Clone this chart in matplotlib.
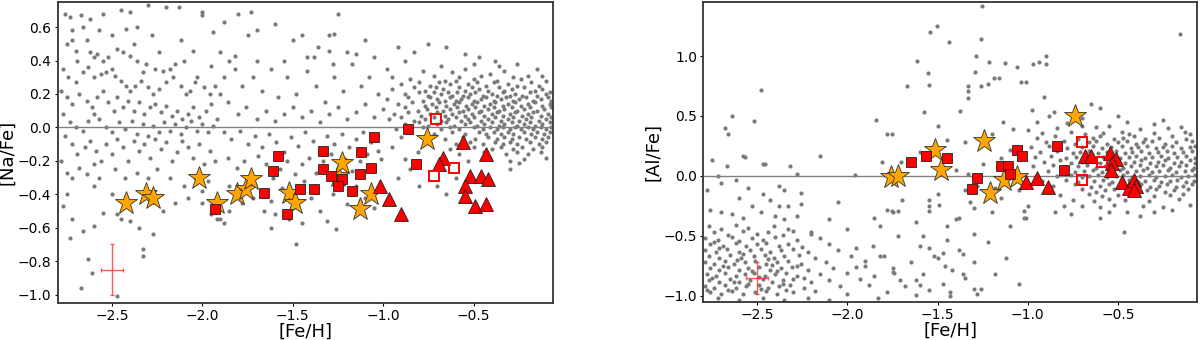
import matplotlib
matplotlib.use("Agg")
import matplotlib.pyplot as plt
import numpy as np

# ---------------- Panel 1: [Na/Fe] ----------------
na_star_feh = [-2.42, -2.31, -2.27, -2.02, -1.92, -1.81, -1.76, -1.73, -1.52, -1.49, -1.25, -1.23, -1.13, -1.07, -0.76]
na_star_val = [-0.45, -0.40, -0.42, -0.30, -0.45, -0.40, -0.37, -0.31, -0.39, -0.45, -0.29, -0.21, -0.49, -0.40, -0.07]

na_sq_feh = [-1.93, -1.66, -1.61, -1.58, -1.53, -1.46, -1.38, -1.33, -1.33, -1.29, -1.23, -1.25, -1.17, -1.13, -1.12, -1.07, -1.05, -0.86, -0.82]
na_sq_val = [-0.49, -0.39, -0.26, -0.17, -0.52, -0.37, -0.37, -0.14, -0.25, -0.29, -0.31, -0.35, -0.38, -0.28, -0.15, -0.24, -0.06, -0.01, -0.22]

na_open_feh = [-0.71, -0.61, -0.72]
na_open_val = [0.05, -0.24, -0.29]

na_tri_feh = [-1.02, -0.97, -0.90, -0.56, -0.67, -0.69, -0.43, -0.52, -0.46, -0.42, -0.55, -0.55, -0.49, -0.43]
na_tri_val = [-0.35, -0.43, -0.52, -0.09, -0.18, -0.22, -0.16, -0.29, -0.29, -0.31, -0.35, -0.41, -0.47, -0.46]

na_err = dict(x=-2.5, y=-0.85, xerr=0.06, yerr=0.15)

na_bg_metal_poor = [
    (-2.76,0.68),(-2.73,0.66),(-2.67,0.67),(-2.62,0.65),(-2.55,0.68),(-2.45,0.70),(-2.40,0.69),(-2.30,0.73),(-2.20,0.72),
    (-2.13,0.72),(-2.00,0.69),(-2.00,0.67),(-1.80,0.68),(-2.28,0.55),(-2.36,0.60),(-2.42,0.59),(-2.50,0.55),(-2.66,0.60),
    (-2.72,0.58),(-2.72,0.52),(-2.75,0.50),(-2.70,0.46),(-2.62,0.45),(-2.60,0.42),(-2.58,0.44),(-2.55,0.40),(-2.52,0.42),
    (-2.47,0.47),(-2.44,0.45),(-2.40,0.43),(-2.36,0.40),(-2.31,0.38),(-2.26,0.35),(-2.22,0.34),(-2.18,0.35),(-2.15,0.38),
    (-2.10,0.40),(-2.05,0.46),(-1.94,0.57),(-1.90,0.45),(-1.85,0.40),(-1.82,0.43),(-1.75,0.55),(-2.03,0.30),(-2.77,0.35),
    (-2.74,0.30),(-2.70,0.27),(-2.66,0.33),(-2.63,0.36),(-2.60,0.30),(-2.56,0.32),(-2.53,0.33),(-2.50,0.35),(-2.48,0.31),
    (-2.45,0.28),(-2.42,0.25),(-2.40,0.22),(-2.37,0.25),(-2.34,0.28),(-2.30,0.24),(-2.27,0.20),(-2.24,0.23),(-2.20,0.27),
    (-2.16,0.30),(-2.12,0.25),(-2.09,0.20),(-2.07,0.22),(-2.04,0.27),(-1.99,0.24),(-1.96,0.20),(-1.93,0.25),(-1.90,0.20),
    (-1.88,0.30),(-2.78,0.22),(-2.75,0.18),(-2.72,0.14),(-2.68,0.20),(-2.64,0.16),(-2.61,0.12),(-2.58,0.18),(-2.55,0.22),
    (-2.52,0.15),(-2.49,0.10),(-2.47,0.18),(-2.44,0.12),(-2.41,0.16),(-2.38,0.10),(-2.35,0.15),(-2.32,0.08),(-2.29,0.12),
    (-2.26,0.14),(-2.23,0.09),(-2.20,0.13),(-2.17,0.07),(-2.14,0.10),(-2.11,0.05),(-2.08,0.08),(-2.05,0.12),(-2.02,0.06),
    (-1.98,0.10),(-1.95,0.14),(-1.92,0.05),(-2.77,0.08),(-2.73,0.03),(-2.70,0.00),(-2.66,-0.02),(-2.63,0.04),(-2.60,0.08),
    (-2.57,0.05),(-2.53,0.00),(-2.50,-0.03),(-2.46,0.03),(-2.43,-0.01),(-2.39,0.04),(-2.36,-0.04),(-2.33,0.02),(-2.30,-0.05),
    (-2.27,0.01),(-2.24,-0.03),(-2.21,0.03),(-2.18,-0.02),(-2.15,0.02),(-2.12,-0.04),(-2.09,0.00),(-2.06,0.04),(-2.03,-0.02),
    (-2.00,0.02),(-1.97,-0.03),(-1.94,0.01),(-2.76,-0.05),(-2.72,-0.10),(-2.69,-0.16),(-2.65,-0.12),(-2.62,-0.08),(-2.59,-0.14),
    (-2.56,-0.20),(-2.53,-0.10),(-2.50,-0.16),(-2.47,-0.07),(-2.44,-0.12),(-2.41,-0.20),(-2.38,-0.08),(-2.35,-0.14),(-2.32,-0.10),
    (-2.29,-0.18),(-2.26,-0.07),(-2.23,-0.13),(-2.20,-0.09),(-2.17,-0.20),(-2.14,-0.15),(-2.11,-0.08),(-2.08,-0.12),(-2.05,-0.18),
    (-2.02,-0.10),(-1.99,-0.22),(-1.96,-0.14),(-1.93,-0.20),(-2.78,-0.20),(-2.75,-0.27),(-2.72,-0.30),(-2.68,-0.24),(-2.64,-0.28),
    (-2.60,-0.22),(-2.57,-0.30),(-2.48,-0.25),(-2.43,-0.30),(-2.36,-0.27),(-2.30,-0.30),(-2.25,-0.25),(-2.18,-0.30),(-2.10,-0.35),
    (-2.04,-0.30),(-1.97,-0.32),(-2.75,-0.40),(-2.77,-0.47),(-2.72,-0.55),(-2.73,-0.66),(-2.66,-0.62),(-2.60,-0.59),(-2.55,-0.51),
    (-2.47,-0.52),(-2.40,-0.56),(-2.35,-0.60),(-2.33,-0.73),(-2.33,-0.77),(-2.27,-0.64),(-2.22,-0.50),(-2.15,-0.45),(-2.08,-0.42),
    (-2.00,-0.38),(-2.00,-0.45),(-1.95,-0.52),(-1.92,-0.55),(-2.63,-0.79),(-2.61,-0.87),(-2.67,-0.96),(-2.47,-1.01),(-2.45,-0.55),
    (-2.50,-0.40),(-2.60,-0.35),(-2.69,0.40),(-2.64,0.52),(-2.57,0.58),(-2.38,0.50),(-2.33,0.33),(-2.24,0.45),(-2.12,0.52),
]

na_bg_mid = [
    (-1.88,0.63),(-1.73,0.69),(-1.70,0.58),(-1.60,0.62),(-1.50,0.52),(-1.45,0.55),(-1.30,0.55),(-1.27,0.56),(-1.25,0.68),
    (-1.10,0.52),(-1.82,0.35),(-1.78,0.25),(-1.72,0.30),(-1.67,0.22),(-1.62,0.35),(-1.58,0.18),(-1.53,0.30),(-1.48,0.20),
    (-1.42,0.34),(-1.37,0.25),(-1.32,0.15),(-1.27,0.30),(-1.22,0.22),(-1.17,0.38),(-1.12,0.25),(-1.08,0.30),(-1.03,0.20),
    (-1.86,0.15),(-1.80,0.08),(-1.76,0.12),(-1.70,0.05),(-1.65,0.10),(-1.60,0.04),(-1.55,0.08),(-1.50,0.12),(-1.45,0.06),
    (-1.40,0.10),(-1.35,0.03),(-1.30,0.08),(-1.25,0.12),(-1.20,0.05),(-1.15,0.09),(-1.10,0.14),(-1.05,0.06),(-1.88,-0.03),
    (-1.84,-0.07),(-1.79,-0.02),(-1.75,-0.10),(-1.71,-0.05),(-1.67,-0.12),(-1.63,-0.04),(-1.59,-0.09),(-1.55,-0.15),(-1.51,-0.06),
    (-1.47,-0.11),(-1.43,-0.03),(-1.39,-0.08),(-1.35,-0.13),(-1.31,-0.05),(-1.27,-0.10),(-1.23,-0.04),(-1.19,-0.12),(-1.15,-0.07),
    (-1.11,-0.03),(-1.07,-0.09),(-1.03,-0.14),(-1.86,-0.18),(-1.81,-0.24),(-1.77,-0.20),(-1.73,-0.27),(-1.69,-0.17),(-1.65,-0.22),
    (-1.61,-0.30),(-1.57,-0.25),(-1.53,-0.20),(-1.49,-0.28),(-1.45,-0.22),(-1.41,-0.18),(-1.37,-0.27),(-1.33,-0.20),(-1.29,-0.16),
    (-1.25,-0.24),(-1.21,-0.19),(-1.17,-0.26),(-1.13,-0.20),(-1.09,-0.16),(-1.05,-0.25),(-1.01,-0.19),(-1.85,-0.35),(-1.78,-0.45),
    (-1.72,-0.42),(-1.66,-0.50),(-1.62,-0.44),(-1.56,-0.36),(-1.50,-0.48),(-1.44,-0.32),(-1.40,-0.42),(-1.35,-0.50),(-1.28,-0.40),
    (-1.20,-0.46),(-1.15,-0.35),(-1.10,-0.42),(-1.05,-0.48),(-1.90,-0.55),(-1.88,-0.57),(-1.85,-0.50),(-1.60,-0.52),(-1.52,-0.55),
    (-1.45,-0.57),(-1.26,-0.61),(-1.31,-0.56),(-1.13,-0.44),(-1.70,0.40),(-1.55,0.40),(-1.38,0.42),(-1.20,0.45),(-1.05,0.42),
    (-1.95,0.37),(-1.42,0.42),(-1.36,0.48),(-1.30,0.46),(-1.15,0.44),(-1.28,0.38),(-1.48,-0.70),(-1.62,-0.60),
]

na_bg_disk = [
    (-0.78,0.34),(-0.62,0.33),(-0.55,0.35),(-0.41,0.32),(-0.33,0.34),(-0.20,0.31),
    (-0.85,0.29),(-0.72,0.31),(-0.66,0.28),(-0.58,0.30),(-0.50,0.29),(-0.46,0.31),(-0.37,0.28),(-0.28,0.30),(-0.24,0.29),(-0.10,0.28),
    (-0.90,0.26),(-0.80,0.27),(-0.74,0.25),(-0.69,0.27),(-0.63,0.26),(-0.60,0.28),(-0.53,0.26),(-0.48,0.27),(-0.43,0.25),(-0.39,0.27),
    (-0.31,0.26),(-0.26,0.25),(-0.18,0.27),(-0.14,0.25),
    (-0.95,0.23),(-0.83,0.24),(-0.77,0.22),(-0.71,0.24),(-0.67,0.23),(-0.64,0.21),(-0.58,0.24),(-0.55,0.22),(-0.51,0.24),(-0.47,0.23),
    (-0.42,0.22),(-0.36,0.24),(-0.33,0.22),(-0.29,0.23),(-0.22,0.24),(-0.16,0.22),(-0.12,0.23),(-0.08,0.21),
    (-0.88,0.20),(-0.80,0.21),(-0.75,0.19),(-0.72,0.21),(-0.68,0.20),(-0.62,0.19),(-0.59,0.21),(-0.56,0.19),(-0.52,0.20),(-0.49,0.21),
    (-0.45,0.19),(-0.40,0.20),(-0.37,0.19),(-0.34,0.21),(-0.30,0.19),(-0.27,0.20),(-0.23,0.19),(-0.19,0.21),(-0.15,0.19),(-0.10,0.20),
    (-0.98,0.17),(-0.86,0.18),(-0.78,0.16),(-0.74,0.18),(-0.70,0.17),(-0.66,0.16),(-0.63,0.18),(-0.60,0.16),(-0.57,0.17),(-0.53,0.18),
    (-0.50,0.16),(-0.46,0.17),(-0.43,0.18),(-0.39,0.16),(-0.35,0.17),(-0.32,0.18),(-0.28,0.16),(-0.25,0.17),(-0.21,0.18),(-0.17,0.16),
    (-0.13,0.17),(-0.09,0.18),(-0.07,0.16),
    (-0.92,0.14),(-0.84,0.15),(-0.77,0.13),(-0.73,0.14),(-0.69,0.15),(-0.65,0.13),(-0.61,0.14),(-0.58,0.15),(-0.54,0.13),(-0.51,0.14),
    (-0.48,0.15),(-0.44,0.13),(-0.41,0.14),(-0.38,0.15),(-0.34,0.13),(-0.31,0.14),(-0.27,0.15),(-0.24,0.13),(-0.20,0.14),(-0.16,0.15),
    (-0.12,0.13),(-0.08,0.14),
    (-1.00,0.11),(-0.88,0.12),(-0.81,0.10),(-0.76,0.11),(-0.71,0.12),(-0.67,0.10),(-0.63,0.11),(-0.59,0.12),(-0.56,0.10),(-0.53,0.11),
    (-0.49,0.12),(-0.46,0.10),(-0.42,0.11),(-0.39,0.12),(-0.36,0.10),(-0.33,0.11),(-0.29,0.12),(-0.26,0.10),(-0.22,0.11),(-0.19,0.12),
    (-0.15,0.10),(-0.11,0.11),(-0.07,0.12),
    (-0.94,0.08),(-0.86,0.09),(-0.79,0.07),(-0.74,0.08),(-0.70,0.09),(-0.66,0.07),(-0.62,0.08),(-0.58,0.09),(-0.55,0.07),(-0.51,0.08),
    (-0.47,0.09),(-0.44,0.07),(-0.40,0.08),(-0.37,0.09),(-0.34,0.07),(-0.30,0.08),(-0.27,0.09),(-0.23,0.07),(-0.20,0.08),(-0.17,0.09),
    (-0.13,0.07),(-0.09,0.08),
    (-0.97,0.05),(-0.90,0.06),(-0.83,0.04),(-0.77,0.05),(-0.72,0.06),(-0.68,0.04),(-0.64,0.05),(-0.60,0.06),(-0.57,0.04),(-0.53,0.05),
    (-0.50,0.06),(-0.46,0.04),(-0.42,0.05),(-0.38,0.06),(-0.35,0.04),(-0.31,0.05),(-0.28,0.06),(-0.25,0.04),(-0.21,0.05),(-0.18,0.06),
    (-0.14,0.04),(-0.10,0.05),(-0.07,0.06),
    (-0.88,0.02),(-0.80,0.03),(-0.75,0.01),(-0.70,0.02),(-0.65,0.03),(-0.61,0.01),(-0.55,0.02),(-0.52,0.03),(-0.48,0.01),(-0.44,0.02),
    (-0.40,0.03),(-0.36,0.01),(-0.33,0.02),(-0.29,0.03),(-0.26,0.01),(-0.22,0.02),(-0.19,0.03),(-0.16,0.01),(-0.12,0.02),(-0.08,0.03),
    (-0.93,-0.01),(-0.78,0.00),(-0.68,-0.01),(-0.63,0.00),(-0.58,-0.01),(-0.50,0.00),(-0.45,-0.01),(-0.41,0.00),(-0.37,-0.01),
    (-0.34,0.00),(-0.30,-0.01),(-0.27,0.00),(-0.24,-0.01),(-0.20,0.00),(-0.17,-0.01),(-0.13,0.00),(-0.10,-0.01),(-0.07,0.00),
    (-0.85,-0.03),(-0.72,-0.04),(-0.62,-0.03),(-0.55,-0.04),(-0.47,-0.03),(-0.43,-0.04),(-0.39,-0.03),(-0.35,-0.04),(-0.31,-0.03),
    (-0.28,-0.04),(-0.22,-0.03),(-0.18,-0.04),(-0.15,-0.03),(-0.11,-0.04),(-0.08,-0.03),
    (-0.90,-0.06),(-0.66,-0.07),(-0.56,-0.06),(-0.49,-0.07),(-0.42,-0.06),(-0.37,-0.07),(-0.33,-0.06),(-0.29,-0.07),(-0.25,-0.06),
    (-0.21,-0.07),(-0.16,-0.06),(-0.12,-0.07),(-0.09,-0.06),
    (-0.77,-0.09),(-0.60,-0.10),(-0.52,-0.09),(-0.45,-0.10),(-0.38,-0.09),(-0.34,-0.10),(-0.30,-0.09),(-0.26,-0.10),(-0.19,-0.09),
    (-0.14,-0.10),(-0.10,-0.09),
    (-0.95,-0.12),(-0.63,-0.13),(-0.50,-0.12),(-0.40,-0.13),(-0.35,-0.12),(-0.28,-0.13),(-0.23,-0.12),(-0.17,-0.13),(-0.12,-0.12),
    (-0.81,-0.15),(-0.58,-0.16),(-0.44,-0.15),(-0.32,-0.16),(-0.26,-0.15),(-0.20,-0.16),(-0.13,-0.15),
    (-0.88,-0.19),(-0.53,-0.20),(-0.41,-0.19),(-0.30,-0.20),(-0.22,-0.19),
    (-0.68,0.37),(-0.50,0.38),(-0.36,0.37),(-0.26,0.38),
    (-0.75,0.50),(-0.65,0.48),(-0.55,0.44),(-0.47,0.42),(-0.38,0.40),(-0.15,0.35),(-0.12,0.31),(-0.70,-0.35),(-0.65,-0.40),
    (-0.30,-0.25),(-0.25,-0.21),(-0.10,-0.18),(-0.60,-0.30),(-0.80,-0.35),(-0.92,-0.30),(-0.85,-0.25),(-0.95,0.30),(-0.98,0.35),
    (-0.88,0.40),(-0.83,0.45),(-0.92,0.48),
]

# ---------------- Panel 2: [Al/Fe] ----------------
al_star_feh = [-1.76, -1.72, -1.515, -1.48, -1.24, -1.21, -1.13, -1.06, -0.74]
al_star_val = [-0.01, 0.00, 0.22, 0.05, 0.29, -0.14, -0.03, -0.01, 0.50]

al_sq_feh = [-1.65, -1.565, -1.45, -1.31, -1.28, -1.15, -1.11, -1.10, -1.06, -1.03, -0.84, -0.80]
al_sq_val = [0.12, 0.17, 0.15, -0.11, -0.02, 0.08, 0.08, 0.02, 0.22, 0.17, 0.25, 0.05]

al_open_feh = [-0.70, -0.59, -0.70]
al_open_val = [0.28, 0.12, -0.03]

al_tri_feh = [-1.01, -0.95, -0.89, -0.68, -0.65, -0.545, -0.51, -0.53, -0.54, -0.48, -0.44, -0.41, -0.40, -0.41]
al_tri_val = [-0.05, -0.02, -0.09, 0.17, 0.17, 0.19, 0.14, 0.105, 0.05, -0.05, -0.10, -0.03, -0.08, -0.12]

al_err = dict(x=-2.5, y=-0.85, xerr=0.06, yerr=0.13)

al_bg_metal_poor = [
    (-2.77,-0.42),(-2.70,-0.44),(-2.62,-0.41),(-2.55,-0.43),(-2.41,-0.42),(-2.33,-0.44),
    (-2.74,-0.47),(-2.66,-0.49),(-2.58,-0.46),(-2.50,-0.48),(-2.44,-0.47),(-2.36,-0.49),(-2.30,-0.46),(-2.20,-0.48),
    (-2.79,-0.52),(-2.72,-0.53),(-2.64,-0.51),(-2.60,-0.54),(-2.53,-0.52),(-2.47,-0.53),(-2.40,-0.51),(-2.28,-0.53),(-2.15,-0.52),
    (-2.76,-0.57),(-2.69,-0.58),(-2.62,-0.56),(-2.56,-0.58),(-2.50,-0.57),(-2.45,-0.56),(-2.38,-0.58),(-2.33,-0.57),(-2.25,-0.59),
    (-2.10,-0.57),(-2.79,-0.62),(-2.73,-0.63),(-2.67,-0.61),(-2.60,-0.63),(-2.54,-0.62),(-2.48,-0.61),(-2.43,-0.63),(-2.37,-0.62),
    (-2.30,-0.61),(-2.22,-0.63),(-2.05,-0.62),(-2.77,-0.67),(-2.71,-0.68),(-2.65,-0.66),(-2.59,-0.68),(-2.52,-0.67),(-2.46,-0.66),
    (-2.41,-0.68),(-2.35,-0.67),(-2.27,-0.66),(-2.18,-0.68),(-1.98,-0.67),(-2.79,-0.72),(-2.74,-0.73),(-2.68,-0.71),(-2.63,-0.73),
    (-2.57,-0.72),(-2.51,-0.71),(-2.45,-0.73),(-2.39,-0.72),(-2.33,-0.71),(-2.26,-0.73),(-2.12,-0.72),(-1.90,-0.71),(-2.76,-0.77),
    (-2.71,-0.78),(-2.66,-0.76),(-2.60,-0.78),(-2.55,-0.77),(-2.49,-0.76),(-2.43,-0.78),(-2.37,-0.77),(-2.31,-0.76),(-2.22,-0.78),
    (-2.08,-0.77),(-1.95,-0.76),(-2.78,-0.82),(-2.73,-0.83),(-2.68,-0.81),(-2.62,-0.83),(-2.57,-0.82),(-2.52,-0.81),(-2.46,-0.83),
    (-2.40,-0.82),(-2.34,-0.81),(-2.28,-0.83),(-2.15,-0.82),(-2.00,-0.81),(-1.85,-0.83),(-2.77,-0.87),(-2.71,-0.88),(-2.65,-0.86),
    (-2.60,-0.88),(-2.54,-0.87),(-2.47,-0.86),(-2.42,-0.88),(-2.36,-0.87),(-2.30,-0.86),(-2.20,-0.88),(-2.10,-0.87),(-1.93,-0.86),
    (-2.79,-0.92),(-2.74,-0.93),(-2.68,-0.91),(-2.62,-0.93),(-2.56,-0.92),(-2.49,-0.91),(-2.44,-0.93),(-2.38,-0.92),(-2.32,-0.91),
    (-2.24,-0.93),(-2.04,-0.92),(-1.88,-0.91),(-2.76,-0.97),(-2.70,-0.98),(-2.64,-0.96),(-2.58,-0.98),(-2.51,-0.97),(-2.45,-0.96),
    (-2.39,-0.98),(-2.30,-0.97),(-2.18,-0.96),(-2.00,-0.98),(-2.72,-1.02),(-2.60,-1.03),(-2.47,-1.02),(-2.35,-1.03),(-2.22,-1.02),
    (-2.10,-1.03),(-1.83,-1.02),(-2.75,-0.85),(-2.69,-0.75),(-2.63,-0.88),(-2.58,-0.65),(-2.53,-0.79),(-2.48,-0.94),(-2.42,-0.74),
    (-2.36,-0.90),(-2.66,-0.95),(-2.71,-0.60),(-2.61,-0.70),(-2.55,-0.90),(-2.49,-0.84),(-2.44,-0.69),(-2.39,-0.79),(-2.34,-0.95),
    (-2.28,-0.75),(-2.24,-0.85),(-2.78,-0.95),(-2.74,-0.55),
    (-2.48,0.72),(-2.52,0.46),(-2.64,0.50),(-2.68,0.40),(-2.66,0.35),(-2.75,0.13),(-2.67,0.08),(-2.58,0.17),(-2.57,0.16),
    (-2.47,0.10),(-2.46,0.10),(-2.32,0.08),(-2.28,0.02),(-2.15,0.17),(-1.96,0.01),(-1.84,0.47),(-1.78,0.35),(-2.72,0.00),
    (-2.62,-0.03),(-2.55,-0.10),(-2.47,-0.15),(-2.38,-0.08),(-2.35,-0.12),(-2.26,-0.14),(-2.78,-0.12),(-2.70,-0.06),(-2.60,-0.18),
    (-2.53,-0.25),(-2.43,-0.20),(-2.38,-0.25),(-2.33,-0.25),(-2.26,-0.23),(-2.76,-0.28),(-2.70,-0.30),(-2.64,-0.32),(-2.58,-0.35),
    (-2.48,-0.30),(-2.40,-0.33),(-2.35,-0.36),(-2.28,-0.33),(-2.05,-0.22),(-2.10,-0.36),(-2.00,-0.44),(-1.85,-0.35),(-1.82,-0.42),
    (-1.78,-0.28),(-2.20,-0.47),
]

al_bg_mid = [
    (-1.95,-0.60),(-1.90,-0.75),(-1.86,-0.58),(-1.80,-0.67),(-1.75,-0.80),(-1.72,-0.50),(-1.68,-0.92),(-1.65,-0.72),(-1.60,-0.58),
    (-1.58,-0.82),(-1.55,-0.95),(-1.50,-0.68),(-1.47,-0.90),(-1.42,-0.78),(-1.38,-0.62),(-1.35,-0.85),(-1.30,-0.72),(-1.26,-0.94),
    (-1.22,-0.55),(-1.18,-0.82),(-1.12,-0.68),(-1.05,-0.90),(-1.75,-0.30),(-1.62,-0.38),(-1.55,-0.25),(-1.45,-0.42),(-1.38,-0.35),
    (-1.30,-0.48),(-1.20,-0.30),(-1.10,-0.42),(-1.02,-0.35),(-1.70,-0.20),(-1.50,-0.15),(-1.32,-0.22),(-1.15,-0.18),(-1.00,-0.25),
    (-1.78,-0.97),(-1.62,-0.99),(-1.43,-1.00),(-1.28,-0.98),
    (-1.256,1.42),(-1.504,1.25),(-1.541,1.20),(-1.436,1.12),(-1.617,0.96),(-1.554,0.86),(-1.55,0.76),(-1.672,0.75),(-1.294,0.87),
    (-1.285,1.00),(-1.26,1.14),(-1.217,0.95),(-1.186,0.82),(-1.16,0.82),(-1.124,0.94),(-1.06,0.91),(-1.037,0.78),(-1.01,0.78),
    (-0.97,0.93),(-0.936,0.95),(-0.90,1.00),(-0.90,0.93),(-0.911,0.66),(-1.33,0.75),(-1.33,0.65),(-1.33,0.71),(-1.22,0.77),
    (-1.26,0.75),(-1.376,0.54),(-1.574,0.53),(-1.50,0.42),(-1.754,0.35),(-0.975,0.55),(-0.852,0.53),(-0.602,0.57),(-0.70,0.42),
    (-0.158,1.18),(-1.14,0.45),(-1.08,0.39),
    (-1.754,-0.29),(-1.72,-0.29),(-1.55,-0.29),(-1.49,-0.24),(-1.40,-0.36),(-1.30,-0.27),(-1.01,-0.35),(-1.02,-0.29),(-0.76,-0.32),
    (-0.466,-0.47),(-1.583,-0.50),(-1.45,-0.53),(-1.47,-0.64),(-1.52,-0.67),(-1.55,-0.60),(-1.36,-0.65),(-1.82,-0.67),(-1.75,-0.77),
    (-1.74,-0.81),(-1.71,-0.87),(-1.62,-0.87),(-1.60,-0.91),(-1.43,-0.97),(-1.30,-0.94),(-1.46,-0.75),(-1.36,-0.82),
    (-1.704,0.12),(-1.81,0.12),(-1.55,-0.20),(-1.33,0.02),(-1.25,0.10),(-1.40,0.05),(-1.15,0.15),(-1.10,0.22),(-1.60,0.20),
    (-1.45,0.30),(-1.20,0.35),(-1.35,0.28),(-1.00,0.38),(-1.28,-0.08),(-1.18,-0.10),(-1.05,-0.12),(-1.35,-0.12),
]

al_bg_disk = [
    (-0.84,0.40),(-0.62,0.41),(-0.38,0.39),(-0.22,0.40),(-0.15,0.41),
    (-0.92,0.36),(-0.76,0.37),(-0.68,0.35),(-0.58,0.36),(-0.48,0.37),(-0.44,0.35),(-0.30,0.36),(-0.13,0.37),(-0.10,0.35),
    (-0.95,0.32),(-0.85,0.33),(-0.72,0.31),(-0.64,0.32),(-0.60,0.33),(-0.52,0.31),(-0.47,0.32),(-0.41,0.33),(-0.35,0.31),
    (-0.27,0.32),(-0.20,0.33),(-0.12,0.31),
    (-0.90,0.28),(-0.80,0.29),(-0.74,0.27),(-0.66,0.28),(-0.62,0.29),(-0.56,0.27),(-0.50,0.28),(-0.45,0.29),(-0.40,0.27),
    (-0.36,0.28),(-0.31,0.29),(-0.24,0.27),(-0.18,0.28),(-0.09,0.29),
    (-0.98,0.24),(-0.88,0.25),(-0.78,0.23),(-0.70,0.24),(-0.64,0.25),(-0.59,0.23),(-0.54,0.24),(-0.48,0.25),(-0.43,0.23),
    (-0.39,0.24),(-0.34,0.25),(-0.29,0.23),(-0.25,0.24),(-0.20,0.25),(-0.15,0.23),(-0.10,0.24),(-0.07,0.25),
    (-0.93,0.20),(-0.84,0.21),(-0.75,0.19),(-0.71,0.20),(-0.66,0.21),(-0.61,0.19),(-0.56,0.20),(-0.51,0.21),(-0.46,0.19),
    (-0.42,0.20),(-0.37,0.21),(-0.33,0.19),(-0.28,0.20),(-0.23,0.21),(-0.19,0.19),(-0.14,0.20),(-0.09,0.21),
    (-0.96,0.16),(-0.87,0.17),(-0.79,0.15),(-0.73,0.16),(-0.68,0.17),(-0.63,0.15),(-0.58,0.16),(-0.53,0.17),(-0.49,0.15),
    (-0.44,0.16),(-0.40,0.17),(-0.35,0.15),(-0.31,0.16),(-0.26,0.17),(-0.22,0.15),(-0.17,0.16),(-0.12,0.17),(-0.07,0.15),
    (-0.91,0.12),(-0.82,0.13),(-0.76,0.11),(-0.70,0.12),(-0.65,0.13),(-0.60,0.11),(-0.55,0.12),(-0.50,0.13),(-0.46,0.11),
    (-0.41,0.12),(-0.37,0.13),(-0.32,0.11),(-0.28,0.12),(-0.24,0.13),(-0.19,0.11),(-0.15,0.12),(-0.10,0.13),(-0.07,0.11),
    (-0.97,0.08),(-0.86,0.09),(-0.78,0.07),(-0.72,0.08),(-0.67,0.09),(-0.62,0.07),(-0.57,0.08),(-0.52,0.09),(-0.47,0.07),
    (-0.43,0.08),(-0.38,0.09),(-0.34,0.07),(-0.29,0.08),(-0.25,0.09),(-0.21,0.07),(-0.16,0.08),(-0.12,0.09),(-0.08,0.07),
    (-0.89,0.04),(-0.80,0.05),(-0.74,0.03),(-0.69,0.04),(-0.64,0.05),(-0.59,0.03),(-0.54,0.04),(-0.49,0.05),(-0.45,0.03),
    (-0.40,0.04),(-0.36,0.05),(-0.31,0.03),(-0.27,0.04),(-0.22,0.05),(-0.18,0.03),(-0.13,0.04),(-0.09,0.05),
    (-0.84,0.00),(-0.76,0.01),(-0.70,-0.01),(-0.66,0.00),(-0.61,0.01),(-0.56,-0.01),(-0.51,0.00),(-0.47,0.01),(-0.42,-0.01),
    (-0.38,0.00),(-0.33,0.01),(-0.29,-0.01),(-0.24,0.00),(-0.20,0.01),(-0.15,-0.01),(-0.11,0.00),(-0.07,0.01),
    (-0.92,-0.04),(-0.79,-0.03),(-0.72,-0.05),(-0.63,-0.04),(-0.58,-0.03),(-0.53,-0.05),(-0.48,-0.04),(-0.44,-0.03),(-0.39,-0.05),
    (-0.35,-0.04),(-0.30,-0.03),(-0.26,-0.05),(-0.21,-0.04),(-0.17,-0.03),(-0.12,-0.05),(-0.08,-0.04),
    (-0.86,-0.08),(-0.74,-0.07),(-0.65,-0.09),(-0.60,-0.08),(-0.55,-0.07),(-0.50,-0.09),(-0.45,-0.08),(-0.37,-0.07),(-0.32,-0.09),
    (-0.27,-0.08),(-0.23,-0.07),(-0.18,-0.09),(-0.14,-0.08),(-0.09,-0.07),
    (-0.90,-0.12),(-0.70,-0.11),(-0.62,-0.13),(-0.57,-0.12),(-0.52,-0.11),(-0.43,-0.13),(-0.34,-0.12),(-0.29,-0.11),(-0.24,-0.13),
    (-0.19,-0.12),(-0.11,-0.11),
    (-0.82,-0.16),(-0.66,-0.15),(-0.59,-0.17),(-0.50,-0.16),(-0.40,-0.15),(-0.30,-0.17),(-0.21,-0.16),(-0.14,-0.15),
    (-0.75,-0.20),(-0.63,-0.21),(-0.55,-0.19),(-0.46,-0.20),(-0.33,-0.21),(-0.16,-0.19),
    (-0.80,-0.25),(-0.60,-0.26),(-0.52,-0.24),(-0.36,-0.25),(-0.25,-0.26),(-0.10,-0.24),
    (-0.55,-0.30),(-0.60,-0.35),(-0.45,-0.30),(-0.38,-0.33),(-0.30,-0.30),(-0.20,-0.28),(-0.85,-0.30),(-0.70,-0.25),
    (-0.95,0.45),(-0.88,0.50),(-0.78,0.44),(-0.70,0.48),(-0.65,0.60),(-0.55,0.42),(-0.45,0.45),(-0.30,0.43),(-0.25,0.47),(-0.50,0.50),
]

XLIM = (-2.8, -0.06)
NA_YLIM = (-1.05, 0.75)
AL_YLIM = (-1.05, 1.45)

plt.rcParams['font.family'] = ['DejaVu Sans']
fig = plt.figure(figsize=(12, 3.4), dpi=100)
ax1 = fig.add_axes([0.048, 0.109, 0.413, 0.885])
ax2 = fig.add_axes([0.586, 0.112, 0.4117, 0.882])


def draw(ax, bg_lists, star, sq, opn, tri, err, ylim, ylabel, yticks):
    for bg in bg_lists:
        xs = [p[0] for p in bg]
        ys = [p[1] for p in bg]
        ax.plot(xs, ys, 'o', color='#7a7a7a', ms=3.0, mew=0, ls='none', zorder=1)
    ax.axhline(0, color='gray', lw=1, zorder=2)
    ax.errorbar(err['x'], err['y'], xerr=err['xerr'], yerr=err['yerr'], fmt='none',
                ecolor='#ff3030', elinewidth=1, capsize=1.5, alpha=0.8, zorder=3)
    ax.plot(star[0], star[1], '*', ms=17, mfc='orange', mec='#333333', mew=0.6, ls='none', zorder=4)
    ax.plot(sq[0], sq[1], 's', ms=7.5, mfc='red', mec='#222222', mew=0.6, ls='none', zorder=5)
    ax.plot(tri[0], tri[1], '^', ms=9.5, mfc='red', mec='#222222', mew=0.6, ls='none', zorder=5)
    ax.plot(opn[0], opn[1], 's', ms=7, mfc='none', mec='red', mew=1.4, ls='none', zorder=5)
    ax.set_xlim(*XLIM)
    ax.set_ylim(*ylim)
    ax.set_xticks([-2.5, -2.0, -1.5, -1.0, -0.5])
    ax.set_yticks(yticks)
    ax.set_xlabel('[Fe/H]', fontsize=13, labelpad=0)
    ax.set_ylabel(ylabel, fontsize=13, labelpad=1)
    ax.tick_params(labelsize=10, length=2.5, width=0.8, pad=2)
    for s in ax.spines.values():
        s.set_linewidth(1.3)
        s.set_color('#333333')


draw(ax1, [na_bg_metal_poor, na_bg_mid, na_bg_disk],
     (na_star_feh, na_star_val), (na_sq_feh, na_sq_val), (na_open_feh, na_open_val),
     (na_tri_feh, na_tri_val), na_err, NA_YLIM, '[Na/Fe]',
     [-1.0, -0.8, -0.6, -0.4, -0.2, 0.0, 0.2, 0.4, 0.6])
draw(ax2, [al_bg_metal_poor, al_bg_mid, al_bg_disk],
     (al_star_feh, al_star_val), (al_sq_feh, al_sq_val), (al_open_feh, al_open_val),
     (al_tri_feh, al_tri_val), al_err, AL_YLIM, '[Al/Fe]',
     [-1.0, -0.5, 0.0, 0.5, 1.0])

fig.savefig('out.png', dpi=100)
